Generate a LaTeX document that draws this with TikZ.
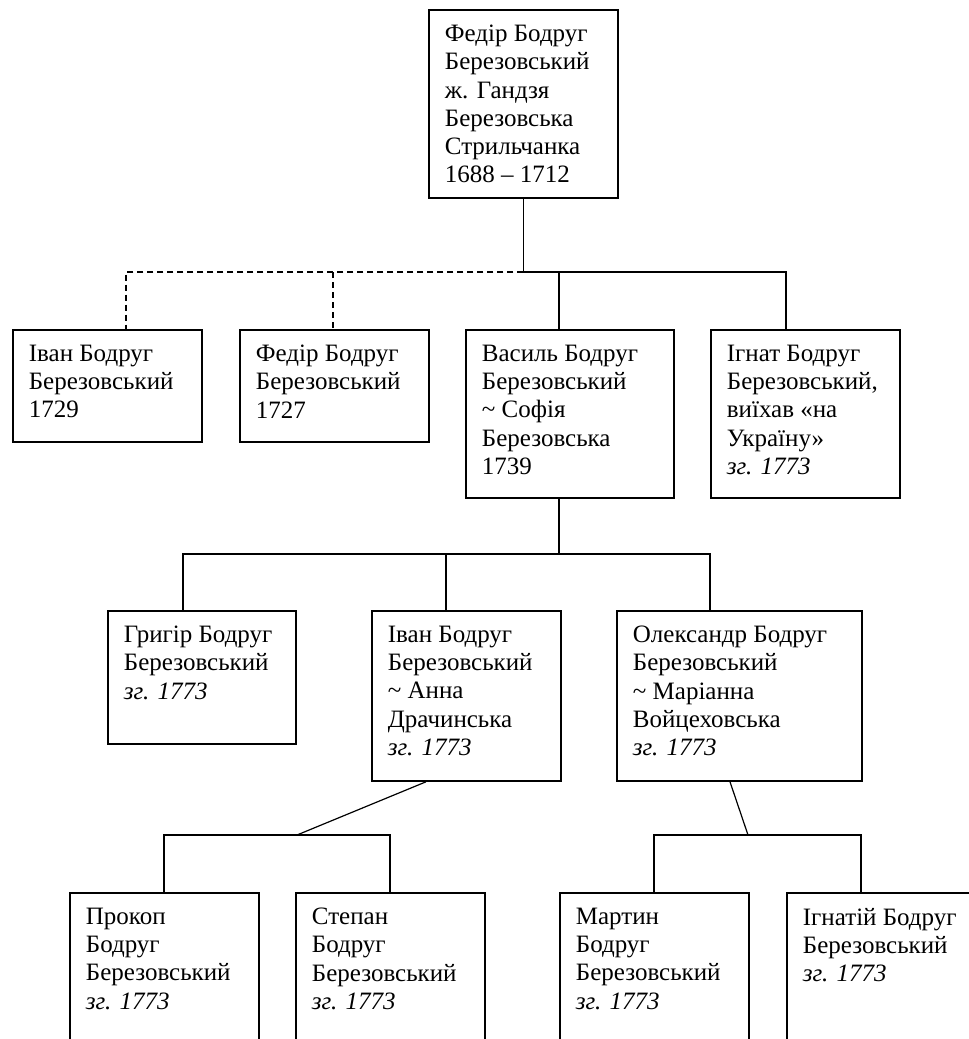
\documentclass[tikz,border=0pt]{standalone}
\usepackage{fontspec}
\setmainfont{Liberation Serif}
\usetikzlibrary{positioning}

\tikzset{
  osoba/.style={draw, line width=1.8pt, anchor=north west, inner xsep=16pt,
    inner ysep=15pt, align=left, font=\fontsize{25}{28.3}\selectfont},
  zvyazok/.style={line width=1.2pt},
  pryp/.style={line width=1.2pt, dash pattern=on 6pt off 4pt}
}
% текст картки: ширина, висота, рядки
\newcommand{\kartka}[3]{\parbox[t][#2pt][t]{#1pt}{#3}}
\newcommand{\zg}{\textit{зг. 1773}}

\begin{document}
\begin{tikzpicture}[x=1pt, y=-1pt]

    \path[use as bounding box, clip] (0,0) rectangle (969,1039);

    % Розміри карток
    \def\W{157}      % звичайна ширина тексту
    \def\Hs{82}      % низька картка
    \def\Hm{103}     % середня картка
    \def\Hl{140}     % висока картка

    % Перше покоління
    \node[osoba] (fedir1) at (428,9) {\kartka{\W}{158}{Федір Бодруг\\Березовський\\ж. Гандзя\\Березовська\\Стрильчанка\\1688 – 1712}};

    % Друге покоління
    \node[osoba] (ivan2) at (12,329) {\kartka{\W}{\Hs}{Іван Бодруг\\Березовський\\1729}};
    \node[osoba] (fedir2) at (239,329) {\kartka{\W}{\Hs}{Федір Бодруг\\Березовський\\1727}};
    \node[osoba] (vasyl) at (465,329) {\kartka{176}{138}{Василь Бодруг\\Березовський\\\textasciitilde{} Софія\\Березовська\\1739}};
    \node[osoba] (ihnat) at (710,329) {\kartka{\W}{138}{Ігнат Бодруг\\Березовський,\\виїхав «на\\Україну»\\\zg}};

    % Третє покоління
    \node[osoba] (hryhir) at (107,610) {\kartka{156}{\Hm}{Григір Бодруг\\Березовський\\\zg}};
    \node[osoba] (ivan3) at (371,610) {\kartka{\W}{\Hl}{Іван Бодруг\\Березовський\\\textasciitilde{} Анна\\Драчинська\\\zg}};
    \node[osoba] (oleks) at (616,610) {\kartka{213}{\Hl}{Олександр Бодруг\\Березовський\\\textasciitilde{} Маріанна\\Войцеховська\\\zg}};

    % Четверте покоління
    \node[osoba] (prokop) at (69,892) {\kartka{\W}{\Hl}{Прокоп\\Бодруг\\Березовський\\\zg}};
    \node[osoba] (stepan) at (295,892) {\kartka{\W}{\Hl}{Степан\\Бодруг\\Березовський\\\zg}};
    \node[osoba] (martyn) at (559,892) {\kartka{\W}{\Hl}{Мартин\\Бодруг\\Березовський\\\zg}};
    \node[osoba] (ihnatii) at (786,892) {\kartka{\W}{\Hl}{Ігнатій Бодруг\\Березовський\\\zg}};

    % Точки входу і виходу ліній
    \coordinate (ivan2-in) at ([xshift=114pt]ivan2.north west);
    \coordinate (fedir2-in) at ([xshift=94pt]fedir2.north west);
    \coordinate (vasyl-in) at ([xshift=94pt]vasyl.north west);
    \coordinate (ihnat-in) at ([xshift=76pt]ihnat.north west);
    \coordinate (vasyl-out) at ([xshift=94pt]vasyl.south west);
    \coordinate (hryhir-in) at ([xshift=76pt]hryhir.north west);
    \coordinate (ivan3-in) at ([xshift=75pt]ivan3.north west);
    \coordinate (oleks-in) at ([xshift=94pt]oleks.north west);
    \coordinate (ivan3-out) at ([xshift=55pt]ivan3.south west);
    \coordinate (oleks-out) at ([xshift=114pt]oleks.south west);
    \coordinate (prokop-in) at ([xshift=95pt]prokop.north west);
    \coordinate (stepan-in) at ([xshift=95pt]stepan.north west);
    \coordinate (martyn-in) at ([xshift=95pt]martyn.north west);
    \coordinate (ihnatii-in) at ([xshift=75pt]ihnatii.north west);

    % Федір -> діти (пунктир: непевне походження)
    \draw[zvyazok] (fedir1.south) -- (fedir1.south |- 0,272) coordinate (r1);
    \draw[pryp] (r1) -| (ivan2-in);
    \draw[pryp] (fedir2-in |- r1) -- (fedir2-in);
    \draw[zvyazok] (r1) -| (ihnat-in);
    \draw[zvyazok] (vasyl-in |- r1) -- (vasyl-in);

    % Василь -> діти
    \draw[zvyazok] (vasyl-out) -- (vasyl-out |- 0,554) coordinate (r2);
    \draw[zvyazok] (hryhir-in) |- (oleks-in |- r2) -- (oleks-in);
    \draw[zvyazok] (ivan3-in |- r2) -- (ivan3-in);

    % Іван -> діти
    \coordinate (r3) at (297,835);
    \draw[zvyazok] (ivan3-out) -- (r3);
    \draw[zvyazok] (prokop-in) |- (stepan-in |- r3) -- (stepan-in);

    % Олександр -> діти
    \coordinate (r4) at (748,835);
    \draw[zvyazok] (oleks-out) -- (r4);
    \draw[zvyazok] (martyn-in) |- (ihnatii-in |- r4) -- (ihnatii-in);

\end{tikzpicture}
\end{document}
